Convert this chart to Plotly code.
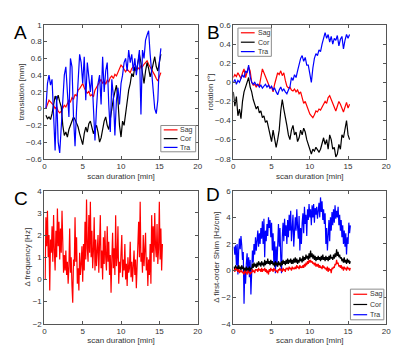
import numpy as np
import plotly.graph_objects as go

# ---------------- data ----------------
# Panel A: translation [mm], sampled every 0.2 min starting at 0.2 min
A_START, A_STEP = 0.2, 0.2
A_SAG = [0.0, 0.05, 0.10, 0.08, 0.06, 0.04, 0.0, 0.02, -0.03, -0.05,
         -0.03, 0.0, 0.04, 0.02, 0.07, 0.10, 0.08, 0.13, 0.11, 0.17,
         0.15, 0.22, 0.24, 0.27, 0.30, 0.25, 0.22, 0.18, 0.21, 0.15,
         0.17, 0.14, 0.22, 0.26, 0.30, 0.32, 0.35, 0.30, 0.33, 0.29,
         0.34, 0.32, 0.37, 0.39, 0.36, 0.41, 0.39, 0.43, 0.46, 0.52,
         0.50, 0.46, 0.44, 0.47, 0.45, 0.43, 0.48, 0.50, 0.47, 0.45,
         0.49, 0.47, 0.51, 0.50, 0.53, 0.55, 0.57, 0.53, 0.50, 0.47,
         0.44, 0.40, 0.36, 0.33, 0.38, 0.43]
A_COR = [-0.08, -0.12, -0.10, -0.13, -0.06, 0.05, 0.15, 0.10, 0.16, 0.08,
         0.02, -0.20, -0.32, -0.28, -0.34, -0.25, -0.20, -0.15, -0.10, -0.13,
         -0.18, -0.22, -0.30, -0.38, -0.43, -0.30, -0.22, -0.28, -0.18, -0.15,
         -0.22, -0.30, -0.24, -0.20, -0.28, -0.40, -0.35, -0.22, -0.15, -0.10,
         -0.20, -0.25, -0.12, 0.02, 0.12, 0.20, 0.28, 0.10, -0.20, -0.34,
         -0.15, -0.20, -0.05, 0.10, 0.22, 0.30, 0.42, 0.38, 0.50, 0.45,
         0.58, 0.65, 0.55, 0.40, 0.30, 0.45, 0.55, 0.48, 0.38, 0.45,
         0.55, 0.62, 0.50, 0.45, 0.55, 0.65]
A_TRA = [0.0, 0.30, 0.40, 0.28, 0.35, -0.15, -0.50, 0.15, -0.40, -0.53,
         -0.20, 0.20, 0.40, 0.50, 0.20, -0.10, 0.60, 0.50, -0.10, -0.45,
         0.00, 0.35, 0.65, 0.55, 0.30, 0.62, 0.10, 0.55, 0.35, 0.20,
         0.40, -0.10, -0.38, 0.00, 0.30, 0.40, 0.05, 0.62, 0.20, 0.45,
         0.55, 0.05, -0.28, 0.35, 0.15, -0.32, 0.10, 0.25, 0.05, 0.30,
         0.40, 0.55, 0.60, 0.45, 0.70, 0.55, 0.65, 0.45, 0.60, 0.40,
         0.55, 0.70, -0.07, 0.70, 0.60, 0.82, 0.88, 0.93, 0.65, 0.40,
         0.20, 0.00, -0.06, 0.10, 0.55, 0.72]

# Panel B: rotation [deg], sampled every 0.2 min starting at 0 min
B_START, B_STEP = 0.0, 0.2
B_SAG = [0.05, 0.08, 0.06, 0.10, 0.07, 0.04, 0.10, 0.14, 0.05, 0.10,
         0.16, 0.12, 0.00, -0.03, -0.02, -0.05, -0.02, -0.04, 0.05, 0.14,
         0.10, 0.06, 0.02, -0.03, -0.06, -0.05, -0.10, -0.02, 0.05, 0.10,
         0.08, 0.12, 0.07, 0.10, 0.02, -0.04, -0.06, -0.05, -0.08, -0.09,
         -0.07, -0.10, -0.08, -0.12, -0.10, -0.17, -0.22, -0.20, -0.25, -0.29,
         -0.33, -0.35, -0.37, -0.34, -0.30, -0.31, -0.28, -0.29, -0.25, -0.23,
         -0.20, -0.22, -0.16, -0.14, -0.18, -0.22, -0.27, -0.30, -0.25, -0.20,
         -0.23, -0.28, -0.31, -0.26, -0.21, -0.27, -0.23]
B_COR = [-0.10, -0.25, -0.15, -0.35, -0.28, -0.38, -0.20, -0.10, -0.05, 0.00,
         0.05, -0.05, -0.10, -0.18, -0.22, -0.28, -0.25, -0.32, -0.30, -0.37,
         -0.35, -0.42, -0.40, -0.48, -0.55, -0.62, -0.50, -0.58, -0.68, -0.60,
         -0.50, -0.30, -0.18, -0.28, -0.35, -0.45, -0.55, -0.60, -0.50, -0.45,
         -0.55, -0.52, -0.62, -0.58, -0.50, -0.55, -0.48, -0.52, -0.60, -0.65,
         -0.72, -0.75, -0.70, -0.72, -0.68, -0.70, -0.73, -0.70, -0.62, -0.58,
         -0.65, -0.60, -0.70, -0.55, -0.60, -0.70, -0.68, -0.78, -0.75, -0.65,
         -0.70, -0.55, -0.58, -0.48, -0.40, -0.55, -0.60]
B_TRA = [0.00, 0.03, -0.02, 0.02, 0.00, 0.05, 0.08, 0.05, 0.12, 0.10,
         0.18, 0.06, 0.00, -0.02, 0.00, -0.03, -0.02, -0.05, -0.03, -0.06,
         -0.04, -0.02, -0.05, -0.03, -0.06, -0.04, -0.08, -0.06, -0.10, -0.13,
         -0.08, -0.05, -0.09, -0.07, -0.10, -0.12, -0.08, -0.05, 0.05, 0.02,
         0.08, 0.05, 0.12, 0.20, 0.25, 0.28, 0.22, 0.26, 0.18, 0.18,
         0.10, 0.00, 0.15, 0.25, 0.30, 0.28, 0.34, 0.32, 0.40, 0.45,
         0.52, 0.46, 0.50, 0.42, 0.48, 0.40, 0.46, 0.44, 0.49, 0.38,
         0.45, 0.48, 0.35, 0.44, 0.50, 0.46, 0.50]

# Panel C: delta frequency [Hz], sampled every 0.1 min starting at 0.1 min
C_START, C_STEP = 0.1, 0.1
C_FREQ = [0.0, 2.8, 1.5, 3.1, 1.0, 2.0, -0.5, 1.8, 1.2, 2.4,
          0.8, 2.9, 1.3, 0.4, 2.2, 1.0, 3.2, 1.5, 2.6, 0.9,
          2.3, 1.2, 3.1, 1.6, 0.3, 1.1, 0.4, 1.3, 0.2, 0.8,
          -0.2, 0.6, 2.3, 0.3, 1.0, -0.3, -1.05, 0.9, 0.6, 2.8,
          0.8, 1.9, -0.2, 0.5, -0.5, 1.2, 0.2, 0.7, 1.5, -0.1,
          1.6, 0.4, 2.6, 0.9, 3.6, 1.4, 0.8, 2.9, 1.2, 3.5,
          1.0, 2.2, 0.5, 1.3, 2.8, 0.4, 1.8, 0.6, 1.1, 2.0,
          0.3, 1.6, 2.9, 0.5, 1.3, 0.0, 1.9, 0.7, 2.2, 1.0,
          0.4, 2.4, 0.8, 1.7, 0.2, 1.1, -0.6, 0.9, 2.1, 0.5,
          1.4, 0.2, 2.9, 0.6, 1.0, 2.4, -0.2, 0.8, 0.3, 1.2,
          2.0, 0.1, 0.9, 0.4, 1.6, 0.0, 0.7, -0.3, 1.0, 0.3,
          0.5, 1.7, 0.1, 0.8, -0.1, 0.6, 1.3, 0.2, 0.9, -0.4,
          0.7, 1.5, 2.6, 1.0, 3.5, 0.8, 1.2, 0.3, 2.0, 0.6,
          1.4, 2.1, 0.4, 1.0, -0.3, 0.9, 0.2, 1.6, -0.2, 2.9,
          1.2, 2.4, 0.8, 3.0, 1.5, 1.0, 2.5, 0.7, 1.4, 3.5,
          0.9, 2.3, 0.4, 1.6]

# Panel D: delta first-order shim [Hz/cm], sampled every 0.1 min starting at 0.1 min
D_START, D_STEP = 0.1, 0.1
D_SAG = [0.1, -0.1, 0.2, 0.0, 0.1, -0.1, 0.1, -0.2, 0.0, -0.1,
         0.0, -0.2, -0.1, -0.3, 0.0, -0.2, -0.1, -0.3, 0.0, -0.2,
         -0.1, -0.3, -0.1, -0.2, 0.1, -0.1, 0.0, -0.2, 0.1, 0.0,
         0.1, -0.1, 0.2, 0.0, 0.1, -0.1, 0.2, -0.1, 0.1, 0.0,
         0.2, -0.1, 0.1, -0.2, 0.0, -0.3, 0.1, -0.1, 0.2, 0.0,
         0.1, -0.1, 0.2, 0.0, 0.1, -0.1, 0.0, -0.2, 0.1, 0.0,
         0.2, 0.0, 0.1, -0.1, 0.2, 0.0, 0.1, -0.1, 0.2, 0.1,
         0.2, 0.0, 0.3, 0.1, 0.2, 0.0, 0.3, 0.1, 0.2, 0.1,
         0.3, 0.1, 0.4, 0.2, 0.3, 0.1, 0.4, 0.2, 0.3, 0.2,
         0.4, 0.2, 0.5, 0.3, 0.6, 0.4, 0.7, 0.5, 0.8, 0.6,
         0.8, 0.6, 0.7, 0.5, 0.6, 0.4, 0.6, 0.3, 0.5, 0.3,
         0.5, 0.2, 0.4, 0.2, 0.3, 0.1, 0.4, 0.2, 0.3, 0.1,
         0.2, 0.0, 0.3, -0.1, 0.2, 0.0, 0.1, -0.2, 0.2, 0.1,
         0.3, 0.2, 0.5, 0.4, 0.8, 0.5, 0.6, 0.3, 0.4, 0.2,
         0.4, 0.1, 0.3, 0.0, 0.3, 0.1, 0.2, 0.0, 0.3, 0.1,
         0.2, 0.0, 0.2]
D_COR = [0.3, 0.0, 0.4, 0.1, 0.3, -0.1, 0.4, 0.1, 0.3, 0.0,
         0.4, 0.1, 0.3, 0.0, 0.2, -0.1, 0.3, 0.0, 0.2, -0.1,
         0.3, 0.0, 0.2, 0.1, 0.5, 0.2, 0.6, 0.3, 0.5, 0.2,
         0.6, 0.3, 0.7, 0.4, 0.6, 0.3, 0.7, 0.4, 0.6, 0.3,
         0.8, 0.4, 0.7, 0.5, 0.9, 0.5, 0.7, 0.4, 0.8, 0.5,
         0.7, 0.4, 0.6, 0.3, 0.7, 0.4, 0.6, 0.3, 0.7, 0.4,
         0.6, 0.3, 0.7, 0.4, 0.8, 0.5, 0.7, 0.4, 0.8, 0.5,
         0.9, 0.5, 0.8, 0.6, 0.9, 0.5, 0.8, 0.5, 0.9, 0.6,
         1.0, 0.6, 0.9, 0.5, 0.8, 0.6, 1.0, 0.7, 0.9, 0.6,
         1.1, 0.7, 1.0, 0.8, 1.2, 0.9, 1.1, 0.8, 1.3, 0.9,
         1.5, 1.0, 1.3, 0.9, 1.2, 0.8, 1.1, 0.7, 1.0, 0.8,
         1.1, 0.8, 1.0, 0.7, 1.1, 0.8, 1.2, 0.8, 1.0, 0.7,
         1.1, 0.8, 1.0, 0.7, 1.1, 0.8, 1.2, 0.9, 1.0, 0.8,
         1.2, 0.9, 1.3, 1.0, 1.6, 1.1, 1.4, 1.0, 1.2, 0.9,
         1.0, 0.7, 0.9, 0.6, 1.0, 0.6, 0.8, 0.5, 0.9, 0.6,
         0.8, 0.5, 0.7]
D_TRA = [1.8, 1.2, 1.9, 0.4, 2.0, -0.3, 1.5, 2.4, 1.6, 2.6,
         1.9, 0.8, 1.4, -2.5, 0.2, -1.0, 0.5, 1.3, 0.0, 1.0,
         -0.5, 0.8, -1.8, 0.5, 1.5, 0.6, 2.0, 1.2, 2.5, 1.5,
         2.2, 3.0, 1.8, 2.8, 2.0, 3.2, 2.4, 3.7, 2.0, 3.9,
         1.0, 3.0, 2.2, 3.5, 2.6, 4.0, 3.2, 3.8, 2.5, 3.6,
         1.5, 2.8, 0.5, 2.2, -0.2, 1.8, 0.3, 2.5, 3.5, 1.8,
         3.2, 1.0, -0.2, 2.5, 3.6, 2.2, 3.9, 2.6, 3.4, 2.0,
         3.8, 2.5, 4.2, 3.0, 4.5, 2.2, 3.5, 4.2, 1.8, 3.6,
         4.0, 3.0, 4.6, 3.3, 2.4, 4.1, 1.5, 3.2, 2.0, 3.6,
         4.3, 2.8, 4.8, 3.5, 4.2, 2.6, 4.6, 3.8, 5.0, 4.0,
         4.6, 3.4, 4.9, 4.0, 5.0, 3.6, 4.7, 4.2, 4.8, 3.9,
         4.5, 5.1, 4.0, 5.5, 4.4, 5.2, 3.8, 4.6, 3.5, 4.3,
         2.0, 3.2, 1.5, 2.6, 3.8, 2.2, 4.0, 3.0, 4.4, 3.4,
         4.6, 3.6, 4.9, 3.9, 4.5, 4.0, 4.8, 3.4, 4.2, 3.0,
         3.8, 2.5, 3.4, 2.0, 3.0, 1.8, 2.8, 1.2, 2.5, 2.0,
         3.6, 2.8, 3.4]

SERIES_NAMES = ["Sag", "Cor", "Tra"]
COLORS = {"Sag": "#ff0000", "Cor": "#000000", "Tra": "#0000ff"}
PANEL_LETTERS = ["A", "B", "C", "D"]

X_TICKS = [0, 5, 10, 15, 20]
A_YTICKS = [-0.6, -0.4, -0.2, 0, 0.2, 0.4, 0.6, 0.8, 1]
B_YTICKS = [-0.8, -0.6, -0.4, -0.2, 0, 0.2, 0.4, 0.6]
C_YTICKS = [-2, -1, 0, 1, 2, 3, 4]
D_YTICKS = [-4, -2, 0, 2, 4, 6]


def tgrid(start, step, n):
    return start + step * np.arange(n)


fig = go.Figure()

FONT = "Liberation Sans, Arial, sans-serif"
LW = 1.2

panelA = {"Sag": A_SAG, "Cor": A_COR, "Tra": A_TRA}
for name in SERIES_NAMES:
    v = panelA[name]
    fig.add_trace(go.Scatter(x=tgrid(A_START, A_STEP, len(v)), y=v, mode="lines",
                             name=name, showlegend=False,
                             line=dict(color=COLORS[name], width=LW),
                             xaxis="x", yaxis="y"))

panelB = {"Sag": B_SAG, "Cor": B_COR, "Tra": B_TRA}
for name in SERIES_NAMES:
    v = panelB[name]
    fig.add_trace(go.Scatter(x=tgrid(B_START, B_STEP, len(v)), y=v, mode="lines",
                             name=name, showlegend=False,
                             line=dict(color=COLORS[name], width=LW),
                             xaxis="x2", yaxis="y2"))

fig.add_trace(go.Scatter(x=tgrid(C_START, C_STEP, len(C_FREQ)), y=C_FREQ, mode="lines",
                         name="freq", showlegend=False,
                         line=dict(color="#ff0000", width=LW), xaxis="x3", yaxis="y3"))

panelD = {"Sag": D_SAG, "Cor": D_COR, "Tra": D_TRA}
for name in ["Tra", "Cor", "Sag"]:
    v = panelD[name]
    fig.add_trace(go.Scatter(x=tgrid(D_START, D_STEP, len(v)), y=v, mode="lines",
                             name=name, showlegend=False,
                             line=dict(color=COLORS[name], width=LW),
                             xaxis="x4", yaxis="y4"))

W, H = 400, 348


def px_x(p):
    return p / W


def px_y(p):
    return 1 - p / H


axis_common = dict(showline=True, mirror="ticks", linecolor="#555555", linewidth=1,
                   ticks="inside", ticklen=3, tickcolor="#555555", showgrid=False,
                   zeroline=False, tickfont=dict(family=FONT, size=8, color="#333333"),
                   title_font=dict(family=FONT, size=8, color="#333333"))

domAx = [px_x(35), px_x(191)]
domBx = [px_x(227.3), px_x(383)]
domTop = [px_y(150.7), px_y(13.3)]
domBot = [px_y(320), px_y(183.5)]

fig.update_layout(
    width=W, height=H, margin=dict(l=0, r=0, t=0, b=0),
    paper_bgcolor="white", plot_bgcolor="white", showlegend=False,
    font=dict(family=FONT, size=8, color="#333333"),
    xaxis=dict(domain=domAx, range=[0, 20], tickvals=X_TICKS, anchor="y",
               title=dict(text="scan duration [min]", standoff=2), **axis_common),
    yaxis=dict(domain=domTop, range=[-0.6, 1], tickvals=A_YTICKS, anchor="x",
               title=dict(text="translation [mm]", standoff=0), **axis_common),
    xaxis2=dict(domain=domBx, range=[0, 20], tickvals=X_TICKS, anchor="y2",
                title=dict(text="scan duration [min]", standoff=2), **axis_common),
    yaxis2=dict(domain=domTop, range=[-0.8, 0.6], tickvals=B_YTICKS, anchor="x2",
                title=dict(text="rotation [°]", standoff=0), **axis_common),
    xaxis3=dict(domain=domAx, range=[0, 20], tickvals=X_TICKS, anchor="y3",
                title=dict(text="scan duration [min]", standoff=2), **axis_common),
    yaxis3=dict(domain=domBot, range=[-2, 4], tickvals=C_YTICKS, anchor="x3",
                title=dict(text="Δ frequency [Hz]", standoff=0), **axis_common),
    xaxis4=dict(domain=domBx, range=[0, 20], tickvals=X_TICKS, anchor="y4",
                title=dict(text="scan duration [min]", standoff=2), **axis_common),
    yaxis4=dict(domain=domBot, range=[-4, 6], tickvals=D_YTICKS, anchor="x4",
                title=dict(text="Δ first-order Shim [Hz/cm]", standoff=0), **axis_common),
)


# compact MATLAB-style legend boxes (layout decoration, paper coordinates)
def add_legend(x0, y0, x1, y1):
    fig.add_shape(type="rect", xref="paper", yref="paper",
                  x0=px_x(x0), x1=px_x(x1), y0=px_y(y1), y1=px_y(y0),
                  line=dict(color="#8c8c8c", width=1), fillcolor="white", layer="above")
    row_h = (y1 - y0) / 3.0
    for i, name in enumerate(SERIES_NAMES):
        yc = y0 + row_h * (i + 0.5)
        fig.add_shape(type="line", xref="paper", yref="paper",
                      x0=px_x(x0 + 3), x1=px_x(x0 + 17), y0=px_y(yc), y1=px_y(yc),
                      line=dict(color=COLORS[name], width=1.2), layer="above")
        fig.add_annotation(text=name, x=px_x(x0 + 18), y=px_y(yc), xref="paper", yref="paper",
                           xanchor="left", yanchor="middle", showarrow=False,
                           font=dict(family=FONT, size=7, color="#333333"))


add_legend(153.5, 116.5, 189, 143.5)
add_legend(232, 16.5, 266, 45.5)
add_legend(346.5, 284.5, 380.5, 316)

LETTER_POS = [(10.5, 21.5), (207, 21.5), (11, 191), (207, 187.5)]
for letter, (x, y) in zip(PANEL_LETTERS, LETTER_POS):
    fig.add_annotation(text=letter, x=px_x(x), y=px_y(y), xref="paper", yref="paper",
                       xanchor="center", yanchor="middle", showarrow=False, borderpad=0,
                       font=dict(family=FONT, size=19, color="black"))

fig.write_html("out.html")
